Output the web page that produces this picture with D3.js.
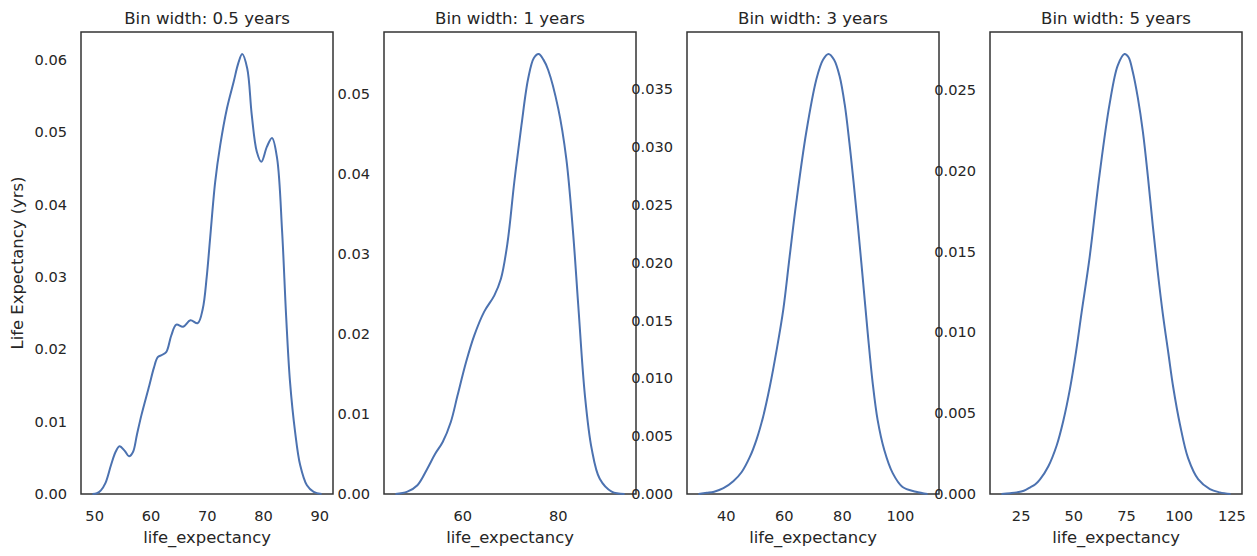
<!DOCTYPE html>
<html>
<head>
<meta charset="utf-8">
<script src="https://cdn.jsdelivr.net/npm/d3@7"></script>
<style>
  html, body { margin: 0; padding: 0; background: #ffffff; }
  svg { display: block; }
  text { font-family: "DejaVu Sans", sans-serif; fill: #262626; }
</style>
</head>
<body>
<svg id="chart" width="1257" height="556"></svg>
<script>
// ---------- data ----------
const titles = ["Bin width: 0.5 years", "Bin width: 1 years", "Bin width: 3 years", "Bin width: 5 years"];
const xLabel = "life_expectancy";
const yLabel = "Life Expectancy (yrs)";

const kde05_x = [49.7, 50.5, 51.2, 52.0, 53.0, 53.8, 54.5, 55.4, 56.2, 56.9, 57.6, 58.4, 59.8, 60.6, 61.3, 62.0, 62.8, 63.7, 64.6, 65.8, 67.1, 68.4, 69.3, 70.0, 70.6, 71.5, 72.4, 73.6, 74.8, 75.6, 76.3, 77.2, 78.0, 78.9, 79.7, 80.7, 81.6, 82.5, 83.4, 84.1, 84.8, 85.7, 86.6, 87.8, 89.0, 90.4];
const kde05_y = [0.0000, 0.0001, 0.0005, 0.0015, 0.0040, 0.0058, 0.0066, 0.0060, 0.0052, 0.0058, 0.0082, 0.0109, 0.0150, 0.0174, 0.0189, 0.0192, 0.0196, 0.0219, 0.0234, 0.0231, 0.0240, 0.0236, 0.0256, 0.0300, 0.0353, 0.0431, 0.0482, 0.0533, 0.0570, 0.0595, 0.0608, 0.0588, 0.0524, 0.0473, 0.0459, 0.0480, 0.0492, 0.0464, 0.0362, 0.0247, 0.0155, 0.0086, 0.0040, 0.0012, 0.0003, 0.0000];

const kde1_x = [46.0, 48.5, 50.6, 52.7, 54.3, 55.9, 57.6, 59.0, 60.8, 62.5, 64.6, 66.7, 68.1, 69.5, 70.9, 72.4, 73.8, 75.0, 76.0, 77.0, 78.0, 80.1, 81.8, 83.2, 84.3, 85.7, 87.1, 88.8, 91.3, 94.0];
const kde1_y = [0.0000, 0.0003, 0.0011, 0.0032, 0.0050, 0.0065, 0.0090, 0.0123, 0.0165, 0.0198, 0.0228, 0.0248, 0.0269, 0.0315, 0.0390, 0.0461, 0.0519, 0.0545, 0.0550, 0.0543, 0.0530, 0.0482, 0.0419, 0.0328, 0.0236, 0.0123, 0.0057, 0.0019, 0.0003, 0.0000];

const kde3_x = [30.6, 33.5, 36.0, 39.2, 42.6, 45.5, 48.3, 50.6, 52.9, 55.2, 57.5, 59.8, 62.0, 64.3, 67.7, 71.2, 73.5, 75.4, 77.3, 79.2, 81.0, 82.6, 84.0, 85.5, 87.2, 88.9, 90.6, 92.3, 94.6, 97.5, 100.9, 105.5, 109.5];
const kde3_y = [0.0000, 0.0001, 0.0002, 0.0005, 0.0011, 0.0019, 0.0032, 0.0047, 0.0067, 0.0093, 0.0124, 0.0159, 0.0205, 0.0252, 0.0312, 0.0358, 0.0375, 0.0380, 0.0375, 0.0361, 0.0336, 0.0303, 0.0270, 0.0232, 0.0186, 0.0139, 0.0096, 0.0064, 0.0038, 0.0018, 0.0006, 0.0002, 0.0000];

const kde5_x = [15.9, 20.0, 23.1, 26.5, 29.4, 32.0, 34.2, 38.1, 42.1, 45.2, 48.4, 51.3, 53.9, 57.7, 62.4, 67.2, 71.1, 74.3, 76.2, 78.2, 80.6, 83.0, 85.4, 87.7, 90.0, 92.4, 95.1, 97.4, 100.6, 104.5, 109.3, 114.8, 119.5, 124.6];
const kde5_y = [0.0000, 0.00005, 0.0001, 0.0002, 0.0004, 0.0006, 0.0009, 0.0017, 0.0030, 0.0045, 0.0065, 0.0088, 0.0112, 0.0146, 0.0197, 0.0241, 0.0265, 0.0272, 0.0270, 0.0261, 0.0245, 0.0224, 0.0196, 0.0166, 0.0138, 0.0112, 0.0087, 0.0066, 0.0043, 0.0022, 0.0009, 0.0003, 0.0001, 0.0000];

const xTicks = [[50, 60, 70, 80, 90], [60, 80], [40, 60, 80, 100], [25, 50, 75, 100, 125]];
const yTicks = [
  [0, 0.01, 0.02, 0.03, 0.04, 0.05, 0.06],
  [0, 0.01, 0.02, 0.03, 0.04, 0.05],
  [0, 0.005, 0.010, 0.015, 0.020, 0.025, 0.030, 0.035],
  [0, 0.005, 0.010, 0.015, 0.020, 0.025]
];
const yFormats = [".2f", ".2f", ".3f", ".3f"];

// ---------- layout ----------
const svg = d3.select("#chart");
const panelLefts = [81, 384, 687, 990];
const panelW = 252;
const plotTop = 32, plotBottom = 494;
const lineColor = "#4c72b0";
const frameColor = "#333333";

const series = [
  kde05_x.map((x, i) => ({x, y: kde05_y[i]})),
  kde1_x.map((x, i) => ({x, y: kde1_y[i]})),
  kde3_x.map((x, i) => ({x, y: kde3_y[i]})),
  kde5_x.map((x, i) => ({x, y: kde5_y[i]}))
];

series.forEach((data, p) => {
  const left = panelLefts[p];
  const right = left + panelW;
  const [xmin, xmax] = d3.extent(data, d => d.x);
  const pad = (xmax - xmin) * 0.05;
  const ymax = d3.max(data, d => d.y) * 1.05;

  const x = d3.scaleLinear().domain([xmin - pad, xmax + pad]).range([left, right]);
  const y = d3.scaleLinear().domain([0, ymax]).range([plotBottom, plotTop]);

  const g = svg.append("g");

  // frame
  g.append("rect")
    .attr("x", left).attr("y", plotTop)
    .attr("width", panelW).attr("height", plotBottom - plotTop)
    .attr("fill", "none").attr("stroke", frameColor).attr("stroke-width", 1.5);

  // curve
  const line = d3.line().x(d => x(d.x)).y(d => y(d.y)).curve(d3.curveCatmullRom.alpha(0.5));
  g.append("path").datum(data)
    .attr("d", line)
    .attr("fill", "none")
    .attr("stroke", lineColor)
    .attr("stroke-width", 2)
    .attr("stroke-linejoin", "round");

  // x axis
  const xAxis = d3.axisBottom(x).tickValues(xTicks[p]).tickSize(0).tickPadding(17).tickFormat(d3.format("d"));
  const gx = g.append("g").attr("transform", `translate(0,${plotBottom})`).call(xAxis);
  gx.select(".domain").remove();
  gx.selectAll("text").attr("font-size", "14.6px").attr("font-family", "DejaVu Sans").attr("fill", "#262626");

  // y axis
  const yAxis = d3.axisLeft(y).tickValues(yTicks[p]).tickSize(0).tickPadding(14).tickFormat(d3.format(yFormats[p]));
  const gy = g.append("g").attr("transform", `translate(${left},0)`).call(yAxis);
  gy.select(".domain").remove();
  gy.selectAll("text").attr("font-size", "14.6px").attr("font-family", "DejaVu Sans").attr("fill", "#262626");

  // title
  g.append("text")
    .attr("x", (left + right) / 2).attr("y", 24)
    .attr("text-anchor", "middle").attr("font-size", "16.6px")
    .text(titles[p]);

  // x label
  g.append("text")
    .attr("x", (left + right) / 2).attr("y", 543)
    .attr("text-anchor", "middle").attr("font-size", "16.4px")
    .text(xLabel);

  if (p === 0) {
    g.append("text")
      .attr("transform", `translate(23,${(plotTop + plotBottom) / 2}) rotate(-90)`)
      .attr("text-anchor", "middle").attr("font-size", "16.4px")
      .text(yLabel);
  }
});
</script>
</body>
</html>
